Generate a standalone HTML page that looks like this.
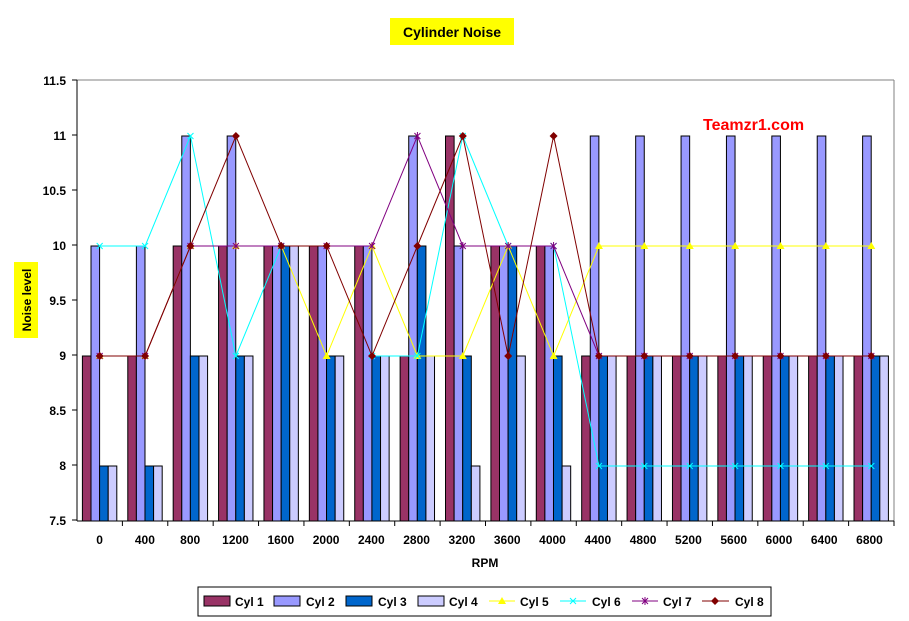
<!DOCTYPE html>
<html><head><meta charset="utf-8"><style>
body{margin:0;background:#fff;}
svg{display:block;font-family:"Liberation Sans",Arial,sans-serif;}
</style></head><body>
<svg id="s" width="909" height="621" xmlns="http://www.w3.org/2000/svg">
<rect x="0" y="0" width="909" height="621" fill="#fff"/>
<rect x="390" y="18" width="124" height="27" fill="#ffff00"/>
<text x="452" y="37" font-size="14" font-weight="bold" text-anchor="middle">Cylinder Noise</text>
<rect x="14" y="262" width="24" height="76" fill="#ffff00"/>
<text transform="translate(31,300) rotate(-90)" font-size="12" font-weight="bold" text-anchor="middle">Noise level</text>
<line x1="77" y1="80" x2="894" y2="80" stroke="#808080"/>
<line x1="894" y1="80" x2="894" y2="521" stroke="#808080"/>
<g id="plot"></g>
<line x1="77" y1="80" x2="77" y2="521" stroke="#000"/>
<line x1="77" y1="521" x2="894" y2="521" stroke="#000"/>
<g font-size="12" font-weight="bold" text-anchor="end">
<text x="66" y="85">11.5</text><text x="66" y="140">11</text><text x="66" y="195">10.5</text><text x="66" y="250">10</text><text x="66" y="305">9.5</text><text x="66" y="360">9</text><text x="66" y="415">8.5</text><text x="66" y="470">8</text><text x="66" y="525">7.5</text>
</g>
<g font-size="12" font-weight="bold" text-anchor="middle">
<text x="99.6" y="544">0</text><text x="144.9" y="544">400</text><text x="190.2" y="544">800</text><text x="235.5" y="544">1200</text><text x="280.8" y="544">1600</text><text x="326.1" y="544">2000</text><text x="371.3" y="544">2400</text><text x="416.6" y="544">2800</text><text x="461.9" y="544">3200</text><text x="507.2" y="544">3600</text><text x="552.5" y="544">4000</text><text x="597.8" y="544">4400</text><text x="643.1" y="544">4800</text><text x="688.4" y="544">5200</text><text x="733.7" y="544">5600</text><text x="778.9" y="544">6000</text><text x="824.2" y="544">6400</text><text x="869.5" y="544">6800</text>
<text x="485" y="567">RPM</text>
</g>
<text x="703" y="130" font-size="16" font-weight="bold" fill="#ff0000">Teamzr1.com</text>
<rect x="198" y="587" width="573" height="29" fill="#fff" stroke="#000"/>
<g font-size="12" font-weight="bold">
<rect x="204" y="596" width="26" height="10" fill="#993366" stroke="#000"/><text x="235" y="606">Cyl 1</text>
<rect x="274" y="596" width="26" height="10" fill="#9999ff" stroke="#000"/><text x="306" y="606">Cyl 2</text>
<rect x="346" y="596" width="26" height="10" fill="#0066cc" stroke="#000"/><text x="378" y="606">Cyl 3</text>
<rect x="418" y="596" width="26" height="10" fill="#ccccff" stroke="#000"/><text x="449" y="606">Cyl 4</text>
<line x1="489" y1="601" x2="515" y2="601" stroke="#ffff00"/><polygon points="502,597 506,604 498,604" fill="#ffff00"/><text x="520" y="606">Cyl 5</text>
<line x1="560" y1="601" x2="586" y2="601" stroke="#00ffff"/><path d="M570,598 l6,6 M576,598 l-6,6" stroke="#00ffff"/><text x="592" y="606">Cyl 6</text>
<line x1="632" y1="601" x2="658" y2="601" stroke="#800080"/><path d="M642,598 l6,6 M648,598 l-6,6 M645,597 v8" stroke="#800080"/><text x="663" y="606">Cyl 7</text>
<line x1="702" y1="601" x2="729" y2="601" stroke="#800000"/><polygon points="715,597 719,601 715,605 711,601" fill="#800000"/><text x="735" y="606">Cyl 8</text>
</g>
</svg>
<script>
var g=document.getElementById('plot');
function Y(v){return 521-(v-7.5)*110;}
var gw=(894-77)/18;
var bars=[
[9,9,10,10,10,10,10,9,11,10,10,9,9,9,9,9,9,9],
[10,10,11,11,10,10,10,11,10,10,10,11,11,11,11,11,11,11],
[8,8,9,9,10,9,9,10,9,10,9,9,9,9,9,9,9,9],
[8,8,9,9,10,9,9,9,8,9,8,9,9,9,9,9,9,9]];
var bc=['#993366','#9999ff','#0066cc','#ccccff'];
var h='';
for(var i=0;i<18;i++){var x0=77+gw*i+5.4;
 h+='<line x1="'+(77+gw*(i+1))+'" y1="521" x2="'+(77+gw*(i+1))+'" y2="526" stroke="#000"/>';
 for(var k=0;k<4;k++){var y=Y(bars[k][i]);h+='<rect x="'+(x0+k*8.6)+'" y="'+y+'" width="8.6" height="'+(521-y)+'" fill="'+bc[k]+'" stroke="#000" stroke-width="1"/>';}}
for(var v=0;v<=8;v++)h+='<line x1="72" y1="'+(80+v*55)+'" x2="77" y2="'+(80+v*55)+'" stroke="#000"/>';
var lines=[
['#ffff00','t',[9,9,10,10,10,9,10,9,9,10,9,10,10,10,10,10,10,10]],
['#00ffff','x',[10,10,11,9,10,null,9,9,11,10,10,8,8,8,8,8,8,8]],
['#800080','s',[9,9,10,10,10,10,10,11,10,10,10,9,9,9,9,9,9,9]],
['#800000','d',[9,9,10,11,10,10,9,10,11,9,11,9,9,9,9,9,9,9]]];
lines.forEach(function(L){var segs=[],p=[];for(var i=0;i<18;i++){if(L[2][i]===null){if(p.length)segs.push(p);p=[];continue;}p.push((77+gw*(i+0.5)).toFixed(1)+','+Y(L[2][i]));}
 if(p.length)segs.push(p);
 segs.forEach(function(s){h+='<polyline points="'+s.join(' ')+'" fill="none" stroke="'+L[0]+'" stroke-width="1"/>';});
 for(var i=0;i<18;i++){if(L[2][i]===null)continue;var x=77+gw*(i+0.5),y=Y(L[2][i]);
  if(L[1]=='t')h+='<polygon points="'+x+','+(y-4)+' '+(x+4)+','+(y+3)+' '+(x-4)+','+(y+3)+'" fill="'+L[0]+'"/>';
  if(L[1]=='x')h+='<path d="M'+(x-3)+','+(y-3)+'l6,6M'+(x+3)+','+(y-3)+'l-6,6" stroke="'+L[0]+'"/>';
  if(L[1]=='s')h+='<path d="M'+(x-3)+','+(y-3)+'l6,6M'+(x+3)+','+(y-3)+'l-6,6M'+x+','+(y-4)+'v8" stroke="'+L[0]+'"/>';
  if(L[1]=='d')h+='<polygon points="'+x+','+(y-4)+' '+(x+4)+','+y+' '+x+','+(y+4)+' '+(x-4)+','+y+'" fill="'+L[0]+'"/>';}});
g.innerHTML=h;
</script>
</body></html>
